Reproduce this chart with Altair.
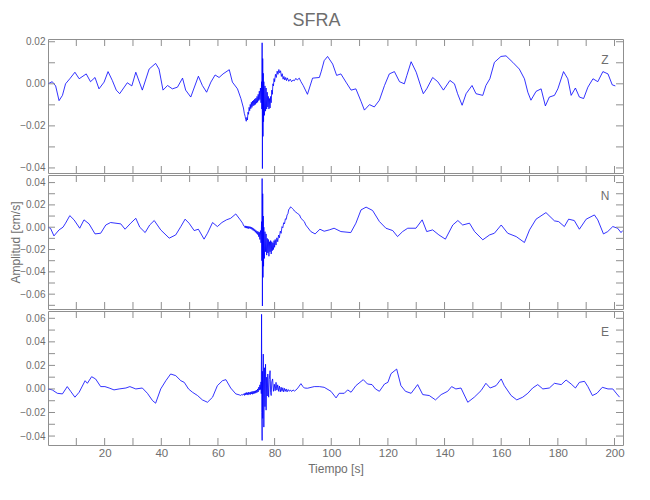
import altair as alt
import pandas as pd

# ---------------- data ----------------
channels = ["Z", "N", "E"]

z_t = [0.0, 1.5, 2.7, 3.9, 5.1, 6.2, 7.7, 9.5, 11.0, 13.5, 15.0, 16.6, 18.0, 19.8, 21.2, 22.7, 24.1, 25.3,
       28.0, 29.6, 31.0, 33.3, 35.7, 38.0, 39.2, 40.6, 42.2, 43.9, 45.7, 47.5, 48.6, 50.4, 53.1, 54.5, 56.0,
       57.5, 59.0, 60.4, 61.8, 64.0, 65.1, 66.9, 68.1,
       69.0, 69.3, 69.6, 69.8, 70.0, 70.2, 70.4, 70.6, 70.8, 71.0, 71.2, 71.4, 71.6, 71.8, 72.0, 72.2, 72.4,
       72.6, 72.8, 73.0, 73.2, 73.4, 73.6, 73.8, 74.0, 74.2, 74.4, 74.6, 74.8, 75.0, 75.2, 75.4, 75.5, 75.6,
       75.7, 75.8, 75.9, 76.0, 76.1, 76.2, 76.4, 76.6, 76.8, 77.0, 77.2, 77.4, 77.6, 77.8, 78.0, 78.2, 78.4,
       78.6, 78.8, 79.0, 79.2, 79.4, 79.6, 79.8, 80.0, 80.3, 80.6, 80.9, 81.2, 81.5, 81.8, 82.1, 82.4, 82.7,
       83.0, 83.3, 83.6, 83.9, 84.2, 84.5, 85.0, 85.5, 86.0, 86.5, 87.0, 87.5, 88.0, 88.7, 89.3,
       90.1, 91.6, 93.4, 95.8, 96.5, 97.5, 98.7, 100.5, 101.9, 103.4, 105.2, 107.0, 108.7, 110.5, 111.7,
       113.5, 115.2, 117.0, 118.8, 120.5, 122.3, 124.1, 125.8, 126.7, 128.2, 130.0, 131.7, 132.5, 133.7,
       135.8, 137.6, 139.6, 141.9, 143.5, 144.6, 146.2, 147.6, 149.7, 151.1, 153.5, 154.6, 156.0, 157.6,
       159.9, 161.7, 164.1, 166.4, 168.2, 169.4, 170.5, 172.3, 174.1, 175.6, 177.0, 178.8, 180.0, 182.0,
       183.5, 184.7, 186.2, 187.6, 189.1, 190.6, 192.4, 194.1, 195.9, 197.7, 199.2, 200.3]
z_v = [0.0, 0.001, -0.001, -0.008, -0.0055, 0.0, 0.0024, 0.0055, 0.0024, 0.0047, 0.001, 0.003, -0.0024,
       0.0008, 0.0058, 0.0016, -0.003, -0.0047, 0.0005, -0.001, 0.0055, -0.003, 0.007, 0.0097, 0.007, -0.003,
       -0.0008, -0.0024, -0.0016, 0.0027, -0.003, -0.0063, 0.0036, -0.0008, -0.004, 0.0008, 0.0042, 0.003,
       0.0047, 0.0067, 0.0008, -0.0024, -0.007,
       -0.0115, -0.014, -0.0155, -0.017, -0.0178, -0.016, -0.0172, -0.0135, -0.0145, -0.0112, -0.0128,
       -0.0098, -0.0118, -0.0088, -0.0112, -0.0082, -0.0105, -0.0078, -0.0102, -0.0072, -0.0098, -0.0068,
       -0.0092, -0.006, -0.0088, -0.005, -0.008, -0.0035, -0.0075, -0.002, -0.009, 0.001, -0.012, 0.0195,
       -0.0403, 0.012, -0.025, 0.005, -0.018, 0.001, -0.015, -0.001, -0.013, -0.002, -0.012, -0.004, -0.011,
       -0.006, -0.012, -0.007, -0.0115, -0.006, -0.009, -0.003, -0.005, 0.0, -0.001, 0.0025, 0.001, 0.0045,
       0.003, 0.006, 0.0045, 0.0068, 0.0052, 0.0062, 0.0035, 0.0048, 0.0022, 0.0035, 0.0018, 0.003, 0.0015,
       0.0028, 0.0012, 0.0022, 0.001, 0.0018, 0.0015, 0.0026, 0.0018, 0.0027, 0.001,
       -0.0008, -0.005, 0.0027, 0.003, 0.006, 0.011, 0.013, 0.0094, 0.004, 0.0047, 0.0008, -0.003, -0.0024,
       -0.0083, -0.0125, -0.0099, -0.011, -0.0078, -0.0008, 0.0047, 0.0058, 0.001, 0.0, 0.004, 0.0105,
       0.0055, -0.0016, -0.0047, -0.0024, 0.003, 0.001, -0.003, 0.0016, 0.0, -0.0047, -0.0102, -0.0047,
       -0.0008, -0.0047, -0.0055, -0.0008, 0.0024, 0.0102, 0.013, 0.0133, 0.0102, 0.007, 0.0024, -0.004,
       -0.0078, -0.0036, -0.0024, -0.0105, -0.0063, -0.0055, -0.0024, 0.0058, 0.0024, -0.0055, -0.002,
       -0.0063, -0.007, -0.0016, 0.0024, 0.001, 0.0058, 0.0047, -0.0005, -0.001]

n_t = [0.0, 0.9, 2.1, 3.9, 5.3, 6.2, 7.7, 9.2, 11.2, 12.7, 14.5, 16.6, 18.6, 20.4, 22.1, 25.7, 27.2, 29.2,
       31.0, 32.4, 34.3, 35.9, 37.5, 39.8, 42.8, 45.1, 46.9, 48.4, 49.8, 51.6, 53.1, 55.1, 56.3, 58.1, 59.8,
       61.4, 63.0, 64.5, 66.3, 67.7, 68.7,
       69.1, 69.4, 69.6, 69.8, 70.0, 70.2, 70.4, 70.6, 70.8, 71.0, 71.2, 71.4, 71.6, 71.8, 72.0, 72.2, 72.4,
       72.6, 72.8, 73.0, 73.2, 73.4, 73.6, 73.8, 74.0, 74.2, 74.4, 74.6, 74.8, 75.0, 75.2, 75.4, 75.5, 75.6,
       75.7, 75.8, 75.9, 76.0, 76.1, 76.2, 76.4, 76.6, 76.8, 77.0, 77.2, 77.4, 77.6, 77.8, 78.0, 78.2, 78.4,
       78.6, 78.8, 79.0, 79.2, 79.4, 79.6, 79.8, 80.0, 80.2, 80.5, 80.8, 81.1, 81.4, 81.7, 82.0, 82.3, 82.6,
       82.9, 83.2, 83.5, 83.8, 84.1, 84.4, 84.7, 85.0, 85.3, 85.6, 85.9, 86.2, 86.6, 87.0, 87.5, 88.0, 88.8,
       89.3, 90.5, 91.0,
       92.8, 94.3, 96.0, 97.5, 99.3, 101.0, 103.4, 106.9, 108.7, 110.5, 112.3, 114.6, 117.0, 119.3, 121.7,
       123.4, 125.2, 127.0, 129.9, 132.1, 133.7, 135.8, 138.0, 140.3, 142.9, 144.7, 146.4, 148.8, 150.6,
       153.5, 155.9, 157.6, 160.0, 162.3, 165.3, 168.2, 170.0, 172.3, 175.8, 178.8, 180.3, 182.3, 183.8,
       185.8, 187.6, 190.0, 192.9, 194.1, 196.1, 197.6, 199.4, 201.1, 202.3, 202.9]
n_v = [0.0, -0.001, -0.0078, -0.0024, 0.0, 0.0036, 0.0104, 0.0066, -0.0009, 0.0066, 0.003, -0.006, -0.0054,
       0.002, 0.0042, 0.003, -0.0018, 0.0036, 0.008, 0.0, -0.0048, 0.002, 0.006, -0.0024, -0.0098, -0.0069,
       0.0006, 0.0072, 0.0036, -0.003, -0.0018, -0.0107, -0.0054, 0.0042, 0.0006, 0.0042, 0.0066, 0.008,
       0.0119, 0.0072, 0.0036,
       0.0012, 0.001, -0.0005, 0.0012, -0.0008, 0.001, -0.001, 0.0008, -0.0012, 0.0006, -0.001, 0.0004,
       -0.0014, 0.0, -0.002, -0.0005, -0.0028, -0.0012, -0.0035, -0.002, -0.0045, -0.0028, -0.0055, -0.0035,
       -0.0065, -0.004, -0.0085, -0.0045, -0.011, -0.003, -0.014, 0.005, -0.03, 0.0436, -0.0706, 0.03, -0.045,
       0.01, -0.035, 0.0, -0.028, -0.004, -0.022, -0.006, -0.025, -0.01, -0.023, -0.011, -0.026, -0.013,
       -0.022, -0.012, -0.024, -0.013, -0.021, -0.014, -0.02, -0.012, -0.018, -0.011, -0.016, -0.0095, -0.013,
       -0.007, -0.0095, -0.0035, -0.0055, 0.0005, -0.0005, 0.004, 0.003, 0.0075, 0.007, 0.011, 0.012, 0.016,
       0.0165, 0.0182, 0.0178, 0.017, 0.016, 0.0145, 0.0135, 0.0125, 0.011, 0.008, 0.005, 0.002,
       -0.0039, -0.006, -0.0018, -0.0036, -0.0024, -0.0009, -0.0039, -0.0048, 0.0036, 0.0155, 0.018, 0.015,
       0.0051, -0.0009, -0.003, -0.0084, -0.0039, -0.0009, -0.0009, 0.0066, -0.0039, -0.0024, -0.0069,
       -0.0107, 0.002, 0.006, 0.002, 0.0036, -0.0039, -0.0113, -0.0069, -0.0054, 0.002, -0.0054, -0.0084,
       -0.0137, -0.0024, 0.0072, 0.0131, 0.0057, 0.005, 0.0006, 0.0072, 0.006, -0.0018, 0.0072, 0.011,
       0.0066, -0.006, -0.0039, 0.0006, -0.0009, -0.0048, -0.003]

e_t = [0.0, 1.5, 3.3, 5.1, 6.8, 8.0, 9.5, 11.0, 13.1, 13.9, 15.4, 16.8, 18.6, 20.1, 21.6, 23.3, 25.1, 27.5,
       28.9, 31.0, 33.3, 35.1, 36.9, 38.0, 39.8, 41.6, 43.3, 45.1, 46.9, 48.1, 49.6, 51.0, 52.8, 54.5, 56.3,
       58.1, 59.8, 61.6, 62.8, 64.5, 66.3, 67.5,
       68.0, 68.4, 68.8, 69.2, 69.4, 69.6, 69.8, 70.0, 70.2, 70.4, 70.6, 70.8, 71.0, 71.2, 71.4, 71.6, 71.8,
       72.0, 72.2, 72.4, 72.6, 72.8, 73.0, 73.2, 73.4, 73.6, 73.8, 74.0, 74.2, 74.4, 74.6, 74.8, 75.0, 75.2,
       75.3, 75.4, 75.5, 75.6, 75.7, 75.8, 76.0, 76.2, 76.4, 76.6, 76.8, 77.0, 77.2, 77.4, 77.6, 77.9, 78.1,
       78.4, 78.6, 78.8, 79.0, 79.3, 79.6, 79.9, 80.2, 80.5, 80.8, 81.1, 81.4, 81.7, 82.0, 82.3, 82.6, 82.9,
       83.2, 83.5, 83.8, 84.1, 84.4, 84.8, 85.2, 85.6, 86.0, 86.5, 87.0, 87.5, 88.2, 89.3, 90.0, 90.5, 91.6,
       94.0, 95.8, 97.5, 99.9, 101.7, 102.8, 104.6, 105.8, 107.0, 108.7, 111.3, 112.8, 114.4, 115.6, 117.0,
       118.8, 120.0, 121.1, 123.1, 124.6, 126.2, 128.2, 130.5, 132.3, 134.6, 136.8, 138.8, 141.1, 142.5,
       144.0, 145.8, 148.2, 150.5, 152.9, 154.6, 156.1, 158.2, 160.0, 161.1, 163.5, 165.5, 167.6, 169.4,
       171.1, 172.9, 174.7, 177.0, 178.8, 181.2, 182.9, 184.7, 186.2, 187.6, 189.4, 190.6, 192.2, 193.8,
       195.7, 197.7, 199.4, 200.8, 201.8]
e_v = [0.0, -0.0008, -0.0037, -0.0042, 0.002, -0.002, -0.007, -0.0028, 0.007, 0.0048, 0.0104, 0.0085, 0.002,
       0.002, 0.0008, -0.0008, 0.0, 0.0008, 0.002, 0.0, 0.0008, -0.0037, -0.0099, -0.0121, 0.0, 0.007, 0.0127,
       0.0113, 0.007, 0.0056, 0.0, -0.0028, -0.0056, -0.0093, -0.0113, -0.007, 0.0028, 0.007, 0.0079, 0.0008,
       -0.0042, -0.005,
       -0.0055, -0.0048, -0.0052, -0.004, -0.0055, -0.0035, -0.005, -0.003, -0.0048, -0.0032, -0.0052, -0.0028,
       -0.0045, -0.003, -0.0048, -0.0025, -0.0042, -0.0022, -0.0045, -0.002, -0.004, -0.0018, -0.0038,
       -0.0015, -0.0035, -0.001, -0.003, 0.0, -0.0025, 0.0015, -0.001, 0.0035, -0.0005, 0.006, -0.004, 0.0634,
       -0.02, -0.0437, 0.015, -0.025, 0.0296, -0.0324, 0.018, -0.015, 0.021, -0.018, 0.01, -0.006, 0.0127,
       -0.007, 0.008, 0.0155, -0.003, -0.0056, 0.006, 0.0085, -0.002, 0.004, -0.0015, 0.0056, -0.001, 0.0035,
       -0.002, 0.0025, -0.0025, 0.0015, -0.002, 0.001, -0.0025, 0.0005, -0.002, 0.0, -0.0025, -0.0005, -0.002,
       -0.0008, -0.0022, -0.0008, -0.0018, -0.001, 0.0008, 0.0045, 0.002, 0.0008, 0.0006,
       0.002, 0.002, 0.0014, -0.002, -0.0076, -0.0037, -0.0037, -0.0008, -0.0028, 0.0028, 0.0079, 0.0042,
       0.0037, 0.0, -0.002, 0.0042, 0.0056, 0.013, 0.0169, 0.0028, -0.002, -0.0037, 0.0037, -0.0048, -0.0056,
       -0.0093, -0.0048, -0.002, 0.002, 0.0, 0.0008, -0.0113, -0.007, -0.0014, 0.0048, 0.0008, 0.0028, 0.0085,
       0.0028, -0.0056, -0.0093, -0.007, -0.0037, 0.0008, 0.0037, 0.0, 0.0008, 0.0048, 0.0037, 0.0076, 0.0042,
       0.0008, 0.0056, 0.0065, 0.002, -0.0056, -0.0037, 0.0014, 0.0, 0.0, -0.0042, -0.007]

x_domain = [0, 203]
x_minor_ticks = [10, 20, 30, 40, 50, 60, 70, 80, 90, 100, 110, 120, 130, 140, 150, 160, 170, 180, 190, 200]
x_labels = [20, 40, 60, 80, 100, 120, 140, 160, 180, 200]

z_domain = [-0.0424, 0.0213]
n_domain = [-0.0733, 0.0468]
e_domain = [-0.0476, 0.0662]
z_ticks = [-0.04, -0.03, -0.02, -0.01, 0.0, 0.01, 0.02]
n_ticks = [-0.07, -0.06, -0.05, -0.04, -0.03, -0.02, -0.01, 0.0, 0.01, 0.02, 0.03, 0.04]
e_ticks = [-0.04, -0.03, -0.02, -0.01, 0.0, 0.01, 0.02, 0.03, 0.04, 0.05, 0.06]
z_labels = [-0.04, -0.02, 0.0, 0.02]
n_labels = [-0.06, -0.04, -0.02, 0.0, 0.02, 0.04]
e_labels = [-0.04, -0.02, 0.0, 0.02, 0.04, 0.06]

# ---------------- styling ----------------
W, H = 575, 134
FRAME = "#8f8f8f"
TXT = "#6e6e6e"
FONT = "Liberation Sans"
TL = 7


def panel(name, t, v, ydom, yticks, ylabels, bottom):
    df = pd.DataFrame({"t": t, "v": v})
    xs = alt.Scale(domain=x_domain, nice=False, zero=False)
    ys = alt.Scale(domain=ydom, nice=False, zero=False)
    if bottom:
        xaxis = alt.Axis(values=x_labels, format="d", title="Tiempo [s]", ticks=False, domain=False,
                         grid=False, labelPadding=2, titlePadding=5, labelFontSize=11.5,
                         titleFontSize=12)
    else:
        xaxis = None
    yaxis = alt.Axis(values=ylabels, format=".2f", title="Amplitud [cm/s]",
                     titleOpacity=1 if name == "N" else 0, ticks=False, domain=False, grid=False,
                     labelPadding=3, minExtent=26, maxExtent=26, titlePadding=0, labelFontSize=10,
                     titleFontSize=12)
    line = alt.Chart(df).mark_line(color="#0000ff", strokeWidth=0.8, clip=True).encode(
        x=alt.X("t:Q", scale=xs, axis=xaxis),
        y=alt.Y("v:Q", scale=ys, axis=yaxis),
    )
    xt = pd.DataFrame({"tick": x_minor_ticks})
    yt = pd.DataFrame({"tick": yticks})
    top = alt.Chart(xt).mark_rule(color=FRAME).encode(
        x=alt.X("tick:Q", scale=xs, axis=xaxis), y=alt.value(0), y2=alt.value(TL))
    bot = alt.Chart(xt).mark_rule(color=FRAME).encode(
        x=alt.X("tick:Q", scale=xs, axis=xaxis), y=alt.value(H), y2=alt.value(H - TL))
    left = alt.Chart(yt).mark_rule(color=FRAME).encode(
        y=alt.Y("tick:Q", scale=ys, axis=yaxis), x=alt.value(0), x2=alt.value(TL))
    right = alt.Chart(yt).mark_rule(color=FRAME).encode(
        y=alt.Y("tick:Q", scale=ys, axis=yaxis), x=alt.value(W), x2=alt.value(W - TL))
    lab = alt.Chart(pd.DataFrame({"c": [name]})).mark_text(
        font=FONT, fontSize=12, color=TXT, align="center", baseline="middle").encode(
        text="c:N", x=alt.value(557), y=alt.value(21))
    return alt.layer(line, top, bot, left, right, lab).properties(width=W, height=H)


p1 = panel("Z", z_t, z_v, z_domain, z_ticks, z_labels, False)
p2 = panel("N", n_t, n_v, n_domain, n_ticks, n_labels, False)
p3 = panel("E", e_t, e_v, e_domain, e_ticks, e_labels, True)

chart = alt.vconcat(p1, p2, p3, spacing=0).properties(
    title=alt.TitleParams("SFRA", fontSize=18, font=FONT, fontWeight="normal", color=TXT,
                          anchor="middle", offset=6),
    padding={"left": 0, "top": 4, "right": 5, "bottom": 5},
).configure_view(stroke=FRAME, strokeWidth=1).configure_axis(
    labelFont=FONT, labelColor=TXT, titleFont=FONT, titleColor=TXT, titleFontWeight="normal"
).configure_concat(spacing=0)

chart.save("out.html", embed_options={"renderer": "svg", "actions": False})
